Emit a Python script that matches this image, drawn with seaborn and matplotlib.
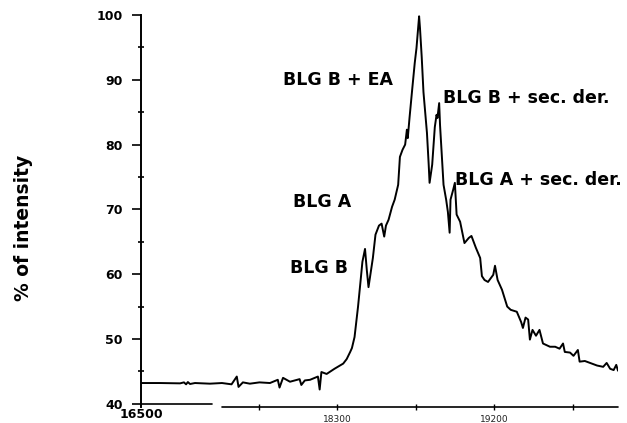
import numpy as np
import pandas as pd
import seaborn as sns
import matplotlib.pyplot as plt

# Deconvoluted mass spectrum (Da) vs relative intensity (%)
mass = [16500, 16770, 17050, 17105, 17135, 17160, 17190, 17260, 17470,
        17640, 17695, 17725, 17735, 17760, 17800, 17855, 17915, 17960, 17970,
        17990, 18030, 18085, 18095, 18115, 18145, 18190, 18200, 18210, 18240,
        18285, 18335, 18355, 18375, 18385, 18400, 18420, 18435, 18445, 18460,
        18470, 18480, 18495, 18505, 18520, 18540, 18555, 18570, 18580, 18595,
        18615, 18630, 18650, 18660, 18675, 18690, 18700, 18705, 18715, 18730,
        18745, 18755, 18770, 18775, 18785, 18795, 18815, 18825, 18830, 18845,
        18860, 18870, 18875, 18885, 18890, 18900, 18910, 18925, 18935, 18945,
        18950, 18965, 18975, 18985, 19005, 19030, 19055, 19070, 19095, 19120,
        19130, 19145, 19165, 19195, 19205, 19220, 19245, 19275, 19295, 19330,
        19355, 19365, 19380, 19395, 19405, 19420, 19440, 19460, 19480, 19520,
        19550, 19575, 19595, 19605, 19635, 19655, 19680, 19690, 19720, 19750,
        19790, 19825, 19845, 19865, 19885, 19900, 19910]
intensity = [43.2, 43.2, 43.15, 43.3, 43.0, 43.35, 43.05, 43.2, 43.1,
             43.2, 43.0, 44.2, 42.6, 43.3, 43.1, 43.3, 43.2, 43.7, 42.5,
             44.0, 43.4, 43.8, 42.9, 43.6, 43.7, 44.2, 42.2, 44.9, 44.6,
             45.4, 46.2, 46.9, 48.0, 48.6, 50.3, 55.0, 59.1, 61.9, 63.9,
             60.7, 58.0, 60.7, 62.5, 66.1, 67.5, 67.8, 65.8, 67.5, 68.4,
             70.4, 71.5, 73.8, 78.1, 79.2, 80.0, 82.3, 81.0, 84.1, 88.4,
             92.6, 94.9, 99.8, 98.0, 93.5, 88.1, 81.8, 76.9, 74.1, 76.9,
             82.7, 84.6, 84.1, 86.4, 83.0, 78.4, 73.8, 71.5, 69.6, 66.4,
             71.5, 73.0, 74.1, 69.2, 68.1, 64.8, 65.6, 65.9, 64.1, 62.5,
             59.7, 59.1, 58.8, 59.9, 61.3, 59.1, 57.6, 55.0, 54.5, 54.2,
             52.6, 51.7, 53.3, 53.0, 49.9, 51.4, 50.5, 51.4, 49.3, 48.8,
             48.8, 48.5, 49.3, 48.0, 47.9, 47.4, 48.3, 46.5, 46.6, 46.3,
             45.9, 45.7, 46.3, 45.4, 45.2, 46.0, 45.1]

peak_labels = ["BLG B + EA", "BLG B + sec. der.", "BLG A + sec. der.", "BLG A", "BLG B"]
label_mass = [17990, 18905, 18975, 18046, 18029]
label_int = [90.0, 87.2, 74.6, 71.2, 61.0]

xtick_major = [16500]
xtick_minor = [17850, 18300, 18750, 19200, 19650]
xtick_minor_labels = ["", "18300", "", "19200", ""]

df = pd.DataFrame({"mass": mass, "intensity": intensity})

sns.set_style("white")
plt.rcParams["font.family"] = ["DejaVu Sans"]
plt.rcParams["text.color"] = "black"
plt.rcParams["axes.labelcolor"] = "black"

fig = plt.figure(figsize=(6.27, 4.23), dpi=100)
ax = fig.add_axes([141 / 627, 1 - 407 / 423, 477 / 627, 392 / 423])

# broken x axis: the low-mass region is squeezed before the break
B = 17640.0
K = 464.0 / 1140.0


def fwd(x):
    x = np.asarray(x, dtype=float)
    return np.where(x < B, B - (B - x) * K, x)


def inv(y):
    y = np.asarray(y, dtype=float)
    return np.where(y < B, B - (B - y) / K, y)


ax.set_xscale("function", functions=(fwd, inv))

sns.lineplot(data=df, x="mass", y="intensity", ax=ax, color="black",
             lw=1.4, estimator=None, sort=False)

ax.set_xlim(16500, 19910)
ax.set_ylim(39.5, 100)

for txt, xm, yi in zip(peak_labels, label_mass, label_int):
    ax.text(xm, yi, txt, ha="left", va="center", fontsize=12.5,
            fontweight="bold", color="black")

# y axis ticks
ax.set_yticks(range(40, 101, 10))
ax.set_yticks(range(45, 100, 10), minor=True)
ax.set_yticklabels([str(v) for v in range(40, 101, 10)],
                   fontweight="bold", fontsize=9)
ax.tick_params(axis="y", which="major", direction="out", length=6.5,
               width=1.2, pad=6.5, left=True, colors="black")
ax.tick_params(axis="y", which="minor", direction="inout", length=5,
               width=1.2, left=True, colors="black")

# x axis ticks
ax.set_xticks(xtick_major)
ax.set_xticklabels([str(v) for v in xtick_major], fontweight="bold",
                   fontsize=9)
ax.set_xticks(xtick_minor, minor=True)
ax.set_xticklabels(xtick_minor_labels, minor=True, fontsize=6.5,
                   color="#222222")
ax.tick_params(axis="x", which="major", length=0, pad=0.5, bottom=True,
               labelcolor="black")
ax.tick_params(axis="x", which="minor", direction="inout", length=4,
               width=1.0, pad=3.5, bottom=True, color="black")

ax.set_xlabel("")
ax.set_ylabel("% of intensity", fontsize=13.5, fontweight="bold")
ax.yaxis.set_label_coords(-0.226, 0.457)

sns.despine(ax=ax, top=True, right=True, bottom=True)
ax.spines["left"].set_linewidth(1.4)
ax.spines["left"].set_color("black")

# the two pieces of the broken bottom axis
ax.axhline(40, xmin=0, xmax=0.149, color="black", lw=1.2, clip_on=False)
ax.axhline(39.5, xmin=0.17, xmax=1, color="black", lw=1.2, clip_on=False)

fig.savefig("out.png", dpi=100)
